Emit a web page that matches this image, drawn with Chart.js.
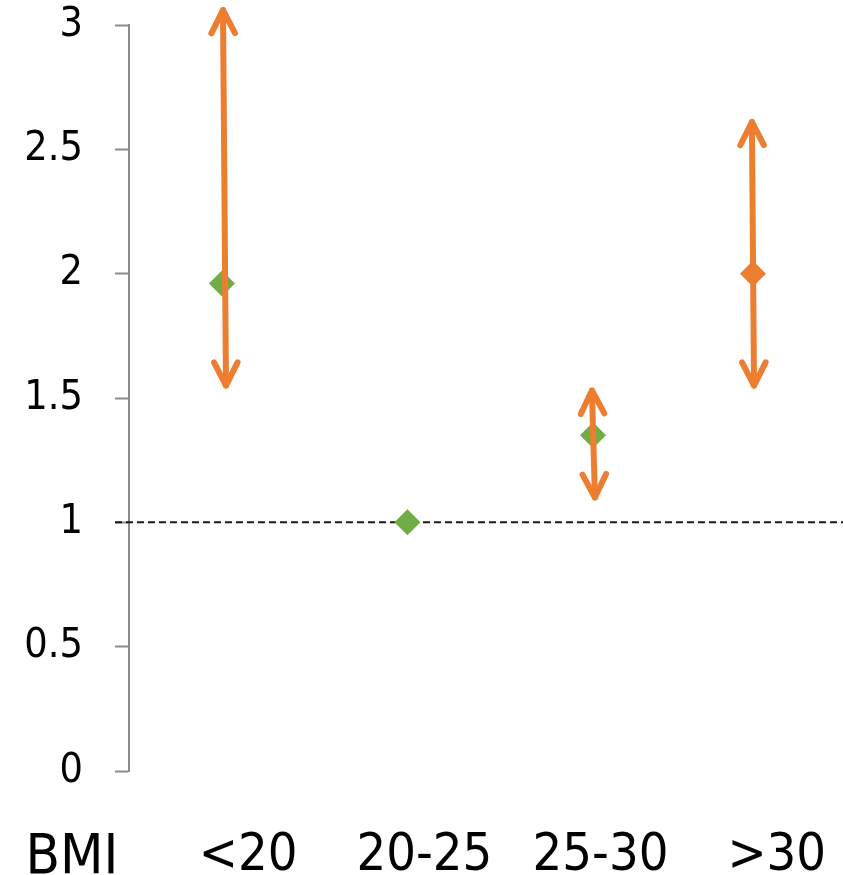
<!DOCTYPE html>
<html>
<head>
<meta charset="utf-8">
<style>
  html, body { margin: 0; padding: 0; background: #fff; overflow: hidden; }
  #wrap { width: 843px; height: 875px; }
  #chart { display: block; }
</style>
<script src="https://cdn.jsdelivr.net/npm/chart.js@4/dist/chart.umd.min.js"></script>
</head>
<body>
<div id="wrap"><canvas id="chart" width="843" height="875"></canvas></div>
<script>
// Risk estimates by BMI group; double arrows span each group's range.
const tickLabels = ['BMI', '<20', '20-25', '25-30', '>30'];
const groups = ['<20', '20-25', '25-30', '>30'];
const estimateX = [0.851, 1.904, 2.957, 3.865];
const estimateY = [1.96, 1.00, 1.35, 2.00];
const rangeLowX = [0.874, null, 2.968, 3.871];
const rangeLowY = [1.55, null, 1.10, 1.55];
const rangeHighX = [0.857, null, 2.951, 3.859];
const rangeHighY = [3.06, null, 1.53, 2.61];
const yTicks = [0, 0.5, 1, 1.5, 2, 2.5, 3];
const referenceLevel = 1;

const GREEN = '#70AD47';
const ORANGE = '#ED7D31';
const AXIS_GREY = '#8c8c8c';
const FONT = "'DejaVu Sans Condensed', 'DejaVu Sans', Verdana, sans-serif";
const highlightGroup = '>30';

// horizontal extent of the plot (in group units); the "BMI" caption sits left of it
const X_MIN = 0.3235;
const X_MAX = 4.376;
const REF_START = 0.244;
const ARROW_WIDTH = 6;

const estimates = groups.map((g, i) => ({ x: estimateX[i], y: estimateY[i] }));

const rangeSets = [];
groups.forEach((g, i) => {
  if (rangeLowY[i] == null) return;
  rangeSets.push({
    label: g + ' range',
    data: [
      { x: rangeLowX[i], y: rangeLowY[i] },
      { x: rangeHighX[i], y: rangeHighY[i] }
    ],
    showLine: true,
    borderColor: ORANGE,
    borderWidth: ARROW_WIDTH,
    borderCapStyle: 'round',
    pointRadius: 0,
    pointHoverRadius: 0,
    clip: false,
    order: 1,
    arrowHeads: true
  });
});

// chevron heads at both ends of each range line
const arrowHeadPlugin = {
  id: 'arrowHeads',
  afterDatasetsDraw(chart) {
    const ctx = chart.ctx;
    chart.data.datasets.forEach((ds, di) => {
      if (!ds.arrowHeads) return;
      const pts = chart.getDatasetMeta(di).data;
      if (pts.length < 2) return;
      const ends = [[pts[0], pts[1]], [pts[1], pts[0]]];
      ctx.save();
      ctx.strokeStyle = ds.borderColor;
      ctx.lineWidth = ARROW_WIDTH;
      ctx.lineCap = 'round';
      ctx.lineJoin = 'round';
      ends.forEach(([tip, from]) => {
        const ang = Math.atan2(tip.y - from.y, tip.x - from.x);
        const len = 26, spread = 0.47;
        ctx.beginPath();
        ctx.moveTo(tip.x - len * Math.cos(ang - spread), tip.y - len * Math.sin(ang - spread));
        ctx.lineTo(tip.x, tip.y);
        ctx.lineTo(tip.x - len * Math.cos(ang + spread), tip.y - len * Math.sin(ang + spread));
        ctx.stroke();
      });
      ctx.restore();
    });
  }
};

new Chart(document.getElementById('chart'), {
  type: 'scatter',
  data: {
    datasets: [
      {
        label: 'Reference',
        data: [{ x: REF_START, y: referenceLevel }, { x: X_MAX, y: referenceLevel }],
        showLine: true,
        borderColor: '#1a1a1a',
        borderWidth: 2,
        borderDash: [7, 4],
        pointRadius: 0,
        pointHoverRadius: 0,
        clip: false,
        order: 3
      },
      {
        label: 'Estimate',
        data: estimates,
        pointStyle: 'rectRot',
        pointRadius: 13,
        pointHoverRadius: 13,
        borderWidth: 0,
        pointBackgroundColor: ctx => groups[ctx.dataIndex] === highlightGroup ? ORANGE : GREEN,
        pointBorderColor: ctx => groups[ctx.dataIndex] === highlightGroup ? ORANGE : GREEN,
        clip: false,
        order: 2
      },
      ...rangeSets
    ]
  },
  options: {
    responsive: false,
    animation: false,
    events: [],
    layout: { autoPadding: false, padding: { top: 25, left: 0, right: 0, bottom: 0 } },
    plugins: { legend: { display: false }, tooltip: { enabled: false } },
    scales: {
      x: {
        type: 'linear',
        position: 'bottom',
        min: X_MIN,
        max: X_MAX,
        afterBuildTicks: s => { s.ticks = tickLabels.map((_, i) => ({ value: i })); },
        afterFit: s => { s.height = 104; s.paddingLeft = 0; s.paddingRight = 0; },
        ticks: {
          autoSkip: false,
          maxRotation: 0,
          minRotation: 0,
          padding: 54,
          color: '#000',
          font: ctx => ({ family: FONT, size: ctx.index === 0 ? 56 : 52 }),
          callback: v => tickLabels[v]
        },
        grid: { display: false, drawTicks: false },
        border: { display: false }
      },
      y: {
        type: 'linear',
        position: 'left',
        min: 0,
        max: 3,
        afterBuildTicks: s => { s.ticks = yTicks.map(v => ({ value: v })); },
        afterFit: s => { s.width = 129; s.paddingTop = 0; s.paddingBottom = 0; },
        ticks: {
          color: '#000',
          padding: 32,
          font: { family: FONT, size: 41 },
          callback: v => String(v)
        },
        grid: { drawOnChartArea: false, drawTicks: true, tickLength: 14, color: AXIS_GREY, tickWidth: 2 },
        border: { display: true, color: AXIS_GREY, width: 2 }
      }
    }
  },
  plugins: [arrowHeadPlugin]
});
</script>
</body>
</html>
